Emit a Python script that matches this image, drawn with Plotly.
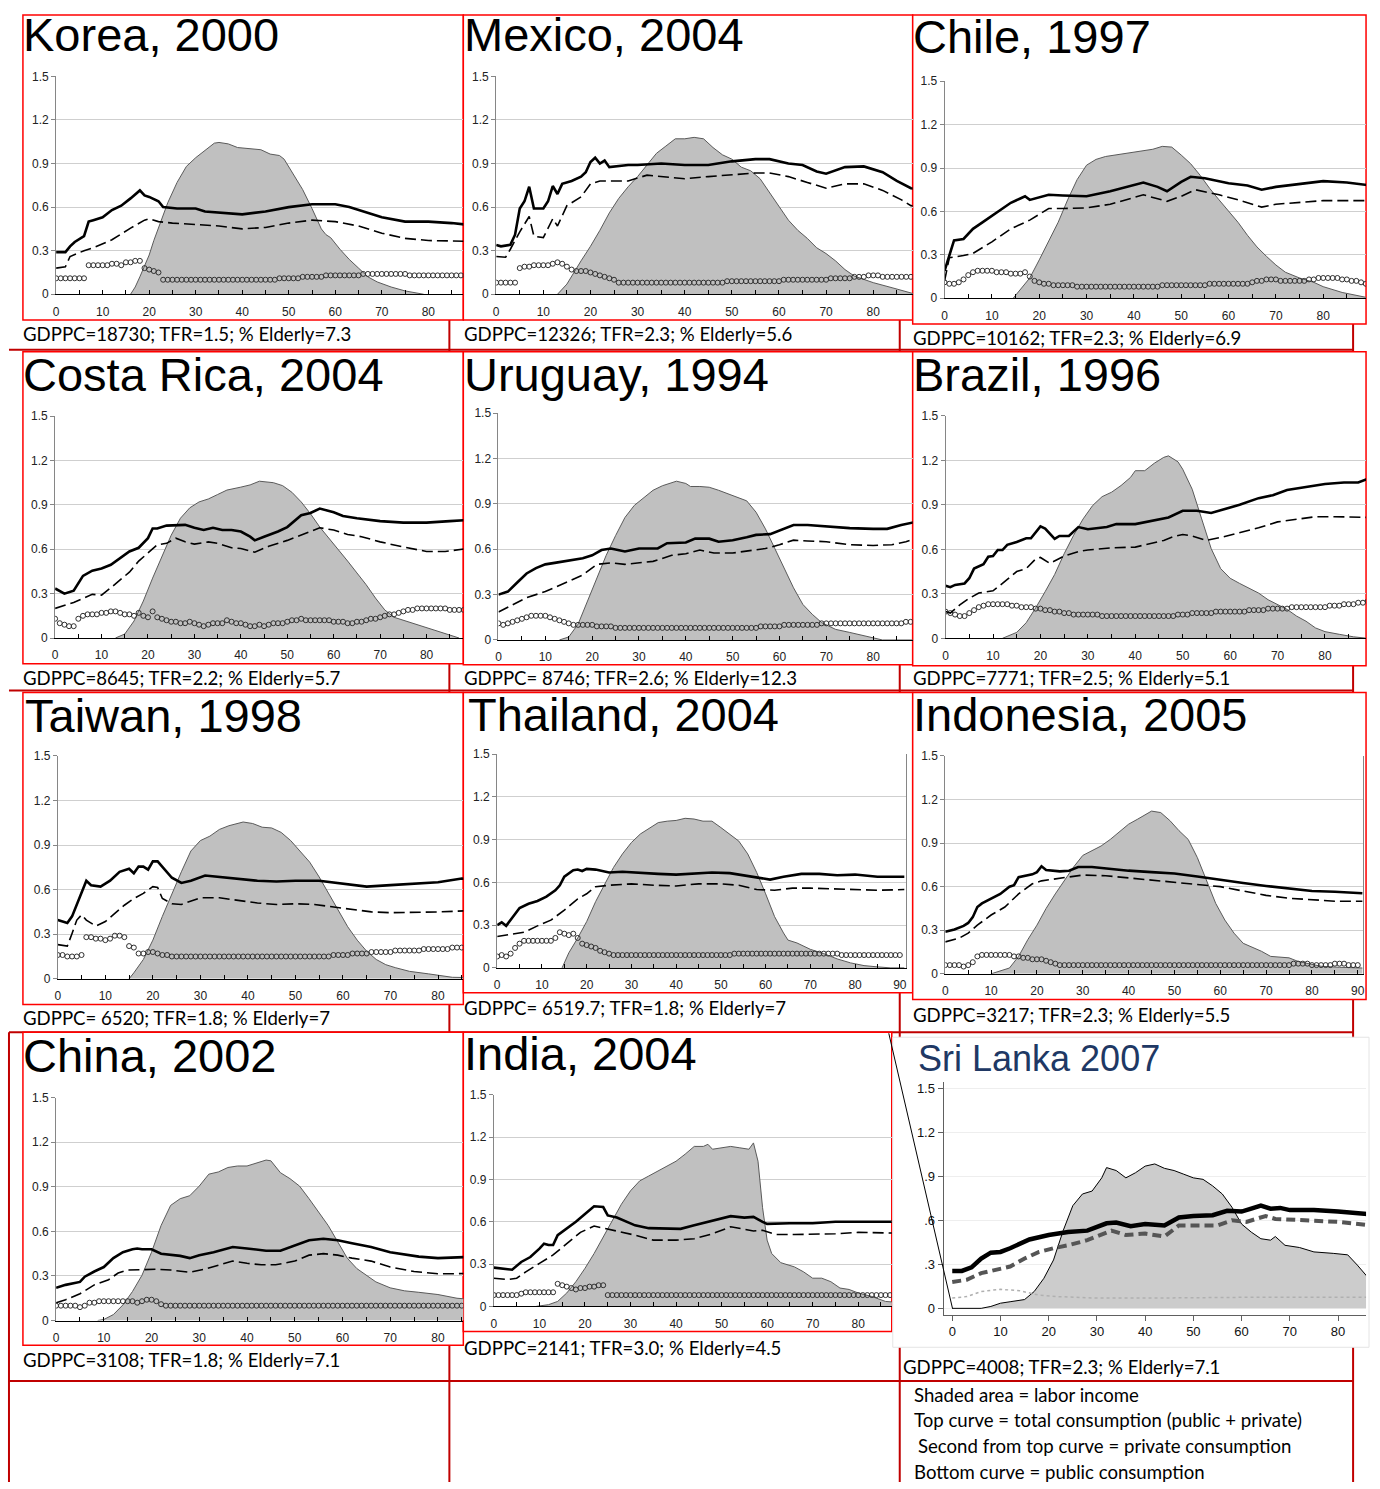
import plotly.graph_objects as go

W, H = 1380, 1489
def fx(p): return p / W
def fy(p): return 1 - p / H

# ---------------- data (age, value) ----------------
PUB_AGES = list(range(91))

KOREA_LABOR = [(16,0),(17,.05),(18,.12),(19,.19),(20,.27),(21,.37),(22,.46),(24,.63),(26,.77),(28,.88),(30,.94),(32,.99),(34,1.04),(35,1.045),(37,1.035),(39,1.01),(41,1.005),(44,.995),(46,.965),(48,.955),(49,.93),(51,.82),(53,.72),(55,.59),(57,.45),(58,.41),(59,.39),(61,.31),(63,.24),(65,.18),(67,.12),(69,.085),(72,.05),(75,.023),(79,0)]
KOREA_TOTAL = [(0,.29),(2,.29),(3,.33),(4,.36),(6,.40),(7,.50),(8,.51),(10,.53),(12,.58),(14,.61),(16,.66),(18,.715),(19,.68),(20,.67),(22,.64),(23,.60),(26,.59),(30,.59),(32,.57),(36,.56),(40,.55),(45,.57),(50,.60),(55,.62),(60,.62),(63,.60),(66,.57),(70,.53),(75,.50),(80,.50),(85,.49),(88,.48)]
KOREA_PRIVATE = [(0,.18),(2,.19),(3,.26),(6,.30),(8,.32),(12,.375),(16,.455),(19,.51),(20,.52),(22,.50),(25,.49),(30,.48),(35,.47),(40,.45),(45,.46),(50,.49),(55,.51),(60,.50),(65,.47),(70,.42),(75,.385),(80,.37),(88,.365)]
KOREA_PUBLIC = [0.11,0.11,0.11,0.11,0.11,0.11,0.11,
    0.20,0.20,0.20,0.20,0.20,0.21,0.21,0.20,
    0.22,0.22,0.23,0.23, 0.18,0.17,0.16,0.15,
    0.10,0.10,0.10,0.10,0.10,0.10,0.10,0.10,0.10,0.10,0.10,0.10,0.10,0.10,0.10,0.10,0.10,0.10,0.10,0.10,0.10,0.10,0.10,
    0.10,0.10,0.11,0.11,0.11,0.11,0.11,0.12,0.12,0.12,
    0.12,0.12,0.13,0.13,0.13,0.13,0.13,0.13,0.13,0.13,
    0.14,0.14,0.14,0.14,0.14,0.14,0.14,0.14,0.14,0.14,
    0.13,0.13,0.13,0.13,0.13,0.13,0.13,0.13,0.13,0.13,0.13,0.13,0.13,0.13,0.13]

MEXICO_LABOR = [(13,0),(15,.07),(18,.23),(20,.33),(22,.44),(24,.56),(26,.66),(28,.74),(30,.81),(32,.89),(34,.97),(36,1.02),(38,1.07),(40,1.07),(42,1.08),(44,1.07),(46,1.01),(48,.96),(50,.93),(52,.875),(54,.85),(56,.795),(58,.70),(60,.61),(62,.51),(64,.44),(66,.385),(68,.32),(70,.28),(72,.23),(74,.17),(76,.125),(78,.10),(80,.08),(84,.045),(88,.01),(89,0)]
MEXICO_TOTAL = [(0,.34),(1,.33),(3,.34),(4,.41),(5,.59),(6,.64),(7,.74),(8,.59),(10,.59),(11,.64),(12,.745),(13,.69),(14,.76),(16,.78),(18,.81),(19,.84),(20,.91),(21,.94),(22,.90),(23,.92),(24,.875),(28,.89),(30,.89),(35,.90),(40,.89),(45,.89),(50,.915),(55,.93),(58,.93),(62,.90),(65,.89),(68,.845),(70,.83),(74,.875),(78,.88),(82,.84),(85,.78),(88,.73),(90,.72)]
MEXICO_PRIVATE = [(0,.26),(2,.255),(3,.31),(5,.43),(7,.535),(8,.40),(10,.39),(12,.52),(13,.47),(15,.61),(18,.67),(20,.76),(22,.78),(25,.78),(28,.78),(32,.82),(40,.795),(45,.81),(50,.82),(55,.835),(58,.835),(62,.81),(66,.77),(70,.73),(74,.76),(78,.76),(82,.715),(86,.65),(88,.61),(90,.60)]
MEXICO_PUBLIC = [0.08,0.08,0.08,0.08,0.08,
    0.18,0.19,0.19,0.20,0.20,0.20,0.20,
    0.21,0.22,0.21,
    0.19,0.17,0.16,0.16,0.16,0.15,0.14,0.13,0.12,0.11,0.10,
    0.08,0.08,0.08,0.08,0.08,0.08,0.08,0.08,0.08,0.08,0.08,0.08,0.08,0.08,0.08,0.08,0.08,0.08,0.08,0.08,0.08,0.08,0.08,
    0.09,0.09,0.09,0.09,0.09,0.09,0.09,0.09,0.09,0.09,0.09,0.09,
    0.10,0.10,0.10,0.10,0.10,0.10,0.10,0.10,0.10,0.10,
    0.11,0.11,0.11,0.11,0.11,0.12,0.12,0.12,
    0.13,0.13,0.13,0.12,0.12,0.12,0.12,0.12,0.12,0.12,0.12,0.12]

CHILE_LABOR = [(14.5,0),(16,.06),(18,.14),(20,.265),(22,.39),(24,.525),(26,.68),(28,.82),(30,.92),(32,.96),(34,.98),(36,.99),(40,1.01),(44,1.03),(46,1.05),(48,1.045),(50,.99),(52,.93),(54,.85),(56,.76),(58,.68),(60,.60),(62,.525),(64,.435),(66,.355),(68,.29),(70,.23),(72,.18),(75,.14),(78,.11),(80,.08),(84,.04),(88,.01),(90,0)]
CHILE_TOTAL = [(0,.19),(1,.29),(2,.40),(4,.41),(6,.48),(8,.525),(10,.57),(12,.615),(14,.66),(16,.69),(17,.705),(18,.68),(20,.70),(22,.715),(25,.71),(30,.705),(35,.74),(40,.785),(42,.80),(45,.77),(47,.74),(50,.805),(52,.84),(55,.83),(60,.795),(64,.78),(67,.75),(70,.77),(75,.79),(80,.81),(85,.80),(90,.78)]
CHILE_PRIVATE = [(0,.12),(1,.28),(4,.295),(6,.31),(10,.39),(14,.48),(18,.54),(20,.58),(22,.62),(25,.62),(30,.625),(35,.65),(40,.70),(42,.715),(47,.67),(50,.705),(53,.75),(58,.715),(62,.68),(67,.63),(70,.65),(75,.66),(80,.675),(90,.675)]
CHILE_PUBLIC = [0.11,0.10,0.10,0.11, 0.13,0.16,
    0.18,0.19,0.19,0.19,0.19,
    0.18,0.18,0.18,0.17,0.17,0.17,0.18,
    0.15,0.12,0.11,0.10,0.10,
    0.09,0.09,0.09,0.09,0.09,
    0.08,0.08,0.08,0.08,0.08,0.08,0.08,0.08,0.08,0.08,0.08,0.08,0.08,0.08,0.08,0.08,0.08,0.08,
    0.09,0.09,0.09,0.09,0.09,0.09,0.09,0.09,0.09,0.09,
    0.10,0.10,0.10,0.10,0.10,0.10,0.10,0.10,0.10,
    0.11,0.12,0.12,0.13,0.13,0.13,
    0.12,0.12,0.12,0.12,0.12,0.12,
    0.13,0.13,0.14,0.14,0.14,0.14,0.14,0.13,0.13,
    0.12,0.12,0.11,0.10,0.10]

COSTA_LABOR = [(13,0),(15,.027),(17,.115),(19,.25),(21,.405),(23,.55),(25,.695),(27,.81),(29,.88),(31,.92),(33,.94),(35,.97),(37,1.0),(40,1.02),(42,1.035),(44,1.06),(47,1.05),(49,1.03),(51,.985),(53,.92),(55,.84),(57,.75),(59,.675),(61,.595),(63,.52),(65,.44),(67,.36),(69,.27),(71,.19),(73,.14),(76,.11),(80,.07),(84,.03),(86,.005),(87,0)]
COSTA_TOTAL = [(0,.335),(2,.30),(4,.32),(6,.42),(8,.455),(10,.47),(12,.495),(14,.54),(16,.585),(18,.61),(20,.675),(21,.74),(22,.74),(24,.76),(26,.765),(28,.765),(30,.745),(32,.73),(34,.745),(36,.73),(38,.73),(40,.72),(42,.685),(43,.66),(45,.685),(48,.72),(50,.75),(53,.83),(55,.845),(57,.875),(60,.85),(62,.825),(65,.81),(70,.79),(75,.78),(80,.78),(85,.79),(90,.80)]
COSTA_PRIVATE = [(0,.20),(4,.24),(8,.295),(10,.29),(12,.34),(14,.395),(16,.445),(18,.52),(20,.575),(22,.63),(24,.64),(26,.675),(28,.65),(30,.635),(33,.65),(35,.64),(38,.61),(40,.605),(43,.58),(46,.62),(50,.66),(53,.695),(57,.745),(60,.73),(63,.70),(66,.685),(70,.65),(75,.615),(80,.585),(84,.585),(90,.61)]
COSTA_PUBLIC = [0.13,0.10,0.09,0.08,0.08,
    0.13,0.15,0.16,0.16,0.16,0.17,0.17,0.18,0.18,
    0.17,0.16,0.16,0.15,0.17,0.15,0.14,0.18,0.14,0.13,0.12,
    0.11,0.11,0.10,0.10,0.11,0.10,
    0.09,0.08,0.09, 0.10,0.10,0.10, 0.12,0.11, 0.10,0.10,0.09,
    0.08,0.08,0.09,0.08,0.09, 0.10,0.10,0.10,0.11,
    0.12,0.12,0.13,0.12,0.12,
    0.12,0.12,0.12,0.12,0.11,0.11,0.11,
    0.10,0.10,0.11,0.11, 0.12,0.13,0.13,0.14,
    0.15,0.16,0.16,0.17,0.18, 0.19,0.19,0.20,0.20,
    0.20,0.20,0.20,0.20,0.20,0.19,0.19,0.19,0.19,0.19,0.19]

URUGUAY_LABOR = [(13,0),(15,.02),(17,.105),(19,.26),(21,.41),(23,.56),(25,.69),(27,.81),(29,.89),(31,.94),(33,.99),(35,1.02),(37,1.04),(38,1.05),(40,1.035),(41,1.015),(43,1.015),(45,1.01),(47,.99),(49,.965),(51,.94),(53,.92),(55,.845),(57,.735),(59,.605),(61,.475),(63,.345),(65,.235),(67,.17),(69,.115),(72,.07),(75,.05),(78,.03),(80,.013),(82,0),(90,0)]
URUGUAY_TOTAL = [(0,.30),(2,.32),(4,.38),(6,.44),(8,.475),(10,.50),(12,.51),(14,.52),(16,.53),(18,.54),(20,.56),(22,.595),(24,.605),(27,.585),(30,.605),(34,.605),(36,.64),(40,.645),(42,.67),(45,.67),(47,.65),(50,.66),(53,.68),(55,.695),(58,.70),(60,.725),(63,.76),(66,.76),(70,.75),(75,.74),(80,.735),(83,.735),(86,.76),(89,.78)]
URUGUAY_PRIVATE = [(0,.185),(3,.235),(6,.28),(10,.32),(14,.375),(18,.43),(21,.50),(24,.51),(27,.50),(30,.51),(33,.52),(37,.56),(40,.57),(43,.595),(46,.575),(50,.575),(54,.59),(57,.605),(60,.63),(63,.66),(66,.655),(70,.65),(75,.63),(80,.625),(84,.63),(87,.65),(89,.67)]
URUGUAY_PUBLIC = [0.11,0.10,0.11, 0.12,0.13,0.14,
    0.15,0.16,0.16,0.16,0.16, 0.15,0.14,0.13,0.12,
    0.11,0.10,0.10,0.10,0.10,0.10, 0.09,0.09,0.09,0.09,
    0.08,0.08,0.08,0.08,0.08,0.08,0.08,0.08,0.08,0.08,0.08,0.08,0.08,0.08,0.08,0.08,
    0.08,0.08,0.08,0.08,0.08,0.08,0.08,0.08,0.08,0.08,0.08,0.08,0.08,0.08,0.08,
    0.09,0.09,0.09,0.09,0.09,0.10,0.10,0.10,0.10,0.10,0.10,0.10,0.10,
    0.11,0.11,0.11,0.11,0.11,0.11,0.11,0.11,0.11,0.11,
    0.11,0.11,0.11,0.11,0.11,0.11,0.11,0.11,0.12,0.12,0.12,0.12]

BRAZIL_LABOR = [(12,0),(15,.04),(17,.105),(19,.205),(21,.315),(23,.43),(25,.57),(27,.695),(29,.805),(31,.895),(33,.955),(35,.985),(37,1.03),(39,1.085),(40,1.13),(42,1.13),(44,1.18),(46,1.22),(47,1.23),(49,1.19),(50,1.14),(52,1.005),(54,.805),(56,.605),(58,.47),(60,.405),(62,.37),(64,.34),(66,.305),(68,.26),(70,.225),(72,.195),(74,.15),(76,.115),(78,.07),(80,.045),(83,.027),(86,.01),(89,0)]
BRAZIL_TOTAL = [(0,.355),(1,.345),(2,.36),(4,.37),(5,.405),(6,.47),(8,.50),(9,.55),(10,.555),(11,.595),(12,.595),(13,.63),(15,.65),(17,.675),(18,.675),(20,.755),(21,.74),(23,.67),(24,.69),(26,.69),(28,.75),(30,.735),(34,.75),(36,.77),(40,.77),(44,.795),(47,.815),(50,.86),(53,.86),(56,.845),(59,.87),(62,.90),(66,.945),(69,.965),(72,1.0),(76,1.02),(80,1.04),(84,1.05),(87,1.05),(89,1.075)]
BRAZIL_PRIVATE = [(0,.18),(1,.17),(3,.225),(5,.27),(7,.305),(10,.32),(12,.37),(15,.45),(17,.47),(19,.535),(20,.545),(22,.505),(25,.555),(28,.585),(30,.595),(35,.61),(40,.615),(43,.64),(46,.66),(48,.685),(50,.70),(52,.69),(55,.66),(58,.68),(62,.71),(66,.745),(70,.785),(74,.805),(78,.82),(82,.82),(86,.815),(89,.815)]
BRAZIL_PUBLIC = [0.18,0.17,0.16,0.15,0.15,0.17,0.19,0.21,
    0.22,0.23,0.23,0.23,0.23, 0.23,0.22,0.22,0.21,0.21,
    0.21,0.20,0.20,0.19,0.19, 0.18,0.18,0.17,0.17,0.16,
    0.16,0.16,0.16,0.16,0.16,
    0.15,0.15,0.15,0.15,0.15,0.15,0.15,0.15,0.15,0.15,0.15,0.15,0.15,0.15,0.15,0.15,
    0.16,0.16,0.16,0.17,0.17,0.17,0.17,0.17,0.18,0.18,0.18,0.18,
    0.18,0.18,0.18,0.19,0.19,0.19,0.19,0.20,0.20,0.20,
    0.20,0.20,0.21,0.21,0.21,0.21,0.21,0.21,0.21,0.21,
    0.22,0.22,0.22,0.23,0.23,0.23,0.24,0.24,0.25,0.26]

TAIWAN_LABOR = [(15,0),(16,.04),(18,.13),(20,.26),(22,.42),(24,.575),(26,.72),(28,.86),(30,.93),(32,.96),(34,1.005),(36,1.03),(38,1.045),(39,1.055),(41,1.045),(43,1.02),(45,1.015),(47,.985),(49,.93),(51,.86),(53,.785),(55,.685),(57,.575),(59,.46),(61,.35),(63,.26),(65,.185),(67,.13),(69,.095),(71,.075),(74,.05),(78,.033),(80,.025),(83,.01),(88,.007)]
TAIWAN_TOTAL = [(0,.395),(2,.375),(3,.42),(5,.575),(6,.66),(7,.63),(9,.62),(11,.66),(13,.72),(15,.74),(16,.71),(17,.755),(18,.755),(19,.735),(20,.79),(21,.79),(22,.755),(24,.68),(26,.645),(28,.66),(31,.695),(34,.685),(38,.675),(42,.66),(46,.655),(50,.66),(55,.66),(60,.64),(65,.62),(70,.63),(75,.64),(80,.65),(85,.675),(88,.665)]
TAIWAN_PRIVATE = [(0,.23),(2,.22),(3,.305),(4,.395),(5,.43),(6,.395),(8,.355),(10,.385),(12,.44),(14,.495),(16,.54),(18,.575),(20,.62),(21,.615),(22,.54),(24,.505),(26,.50),(28,.52),(30,.545),(34,.545),(37,.53),(42,.51),(46,.50),(50,.505),(54,.50),(58,.485),(62,.465),(66,.45),(70,.445),(75,.445),(80,.45),(88,.46)]
TAIWAN_PUBLIC = [0.16,0.16,0.15,0.15,0.15,0.16,
    0.28,0.28,0.27,0.27,0.26, 0.27,0.29,0.29, 0.28,
    0.22,0.21,0.17,0.17,0.18,0.18,
    0.17,0.16,0.16,0.15,0.15,
    0.15,0.15,0.15,0.15,0.15,0.15,0.15,0.15,0.15,0.15,0.15,0.15,0.15,0.15,0.15,0.15,0.15,0.15,0.15,0.15,0.15,0.15,0.15,0.15,0.15,
    0.15,0.15,0.15,0.15,0.15,
    0.15,0.15,0.16,0.16,0.16,0.16,0.17,0.17,0.17,
    0.17,0.18,0.18,0.18,0.18,0.18,0.19,0.19,0.19,0.19,0.19,
    0.19,0.20,0.20,0.20,0.20,0.20,0.20,0.21,0.21,0.21,0.21,0.21,0.21,0.21,0.21]

THAI_LABOR = [(14.5,0),(16,.105),(18,.21),(20,.325),(22,.465),(24,.59),(26,.705),(28,.80),(30,.88),(32,.94),(34,.98),(36,1.02),(38,1.03),(40,1.035),(42,1.05),(44,1.045),(46,1.03),(48,1.03),(50,.985),(52,.94),(54,.89),(56,.80),(58,.67),(60,.52),(62,.36),(64,.245),(65,.195),(67,.175),(70,.13),(73,.10),(76,.063),(79,.035),(82,.016),(85,.007),(88,0),(91,0)]
THAI_TOTAL = [(0,.30),(1,.32),(2,.295),(3,.335),(5,.42),(7,.45),(9,.47),(11,.50),(13,.545),(14,.58),(15,.64),(17,.685),(18,.69),(19,.68),(20,.695),(22,.69),(25,.67),(28,.675),(32,.665),(36,.66),(40,.655),(44,.665),(48,.67),(52,.665),(55,.65),(58,.635),(61,.62),(64,.64),(68,.66),(72,.66),(76,.65),(80,.655),(85,.64),(91,.64)]
THAI_PRIVATE = [(0,.22),(2,.23),(4,.245),(6,.25),(9,.295),(12,.335),(15,.405),(18,.485),(20,.52),(22,.57),(25,.58),(30,.59),(35,.58),(40,.575),(45,.59),(50,.59),(54,.58),(58,.55),(62,.545),(66,.56),(70,.56),(75,.555),(80,.55),(85,.545),(91,.55)]
THAI_PUBLIC = [0.08,0.09,0.08,0.10,0.14,
    0.17,0.19,0.19,0.19,0.19,0.19,0.19,0.19,
    0.21,0.25,0.24,0.23,0.24,
    0.21,0.17,0.16,0.15,0.14,0.12,0.11,0.10,
    0.09,0.09,0.09,0.09,0.09,0.09,0.09,0.09,0.09,0.09,0.09,0.09,0.09,0.09,0.09,0.09,0.09,0.09,0.09,0.09,0.09,0.09,0.09,0.09,0.09,
    0.09,0.09,
    0.10,0.10,0.10,0.10,0.10,0.10,0.10,0.10,0.10,0.10,0.10,0.10,0.10,
    0.10,0.10,0.10,0.10,0.10,0.10,0.10,0.10,0.10,0.10,0.10,
    0.09,0.09,0.09,0.09,0.09,0.09,0.09,0.09,0.09,0.09,0.09,0.09,0.09,0.09]

INDO_LABOR = [(10,0),(12,.018),(14,.04),(16,.12),(18,.235),(20,.335),(22,.45),(24,.55),(26,.645),(28,.735),(30,.815),(32,.85),(34,.88),(36,.925),(38,.98),(40,1.03),(42,1.065),(44,1.105),(45,1.12),(47,1.11),(49,1.055),(51,.985),(53,.925),(55,.80),(57,.645),(59,.485),(61,.37),(63,.28),(65,.21),(67,.185),(69,.155),(71,.12),(73,.115),(75,.11),(77,.085),(79,.07),(82,.052),(86,.045),(91,.04)]
INDO_TOTAL = [(0,.29),(2,.305),(4,.33),(5,.35),(6,.39),(7,.46),(8,.485),(10,.515),(12,.55),(14,.60),(15,.61),(16,.665),(18,.68),(19,.685),(20,.70),(21,.74),(22,.715),(25,.705),(27,.71),(29,.735),(32,.735),(36,.72),(40,.71),(45,.70),(50,.69),(55,.67),(60,.645),(65,.625),(70,.605),(75,.585),(80,.57),(85,.565),(91,.555)]
INDO_PRIVATE = [(0,.22),(3,.245),(5,.28),(7,.335),(10,.405),(13,.46),(16,.55),(19,.62),(21,.64),(24,.655),(27,.67),(30,.68),(35,.675),(40,.66),(45,.645),(50,.635),(55,.62),(60,.60),(65,.57),(70,.54),(75,.52),(80,.51),(85,.50),(91,.50)]
INDO_PUBLIC = [0.06,0.06,0.06,0.06,0.05,0.06, 0.08,0.12,
    0.13,0.13,0.13,0.13,0.13,0.13, 0.13,0.12,0.12,
    0.11,0.11,0.10,0.10,0.10, 0.09,0.08,0.07,0.06,
    0.06,0.06,0.06,0.06,0.06,0.06,0.06,0.06,0.06,0.06,0.06,0.06,0.06,0.06,0.06,0.06,0.06,0.06,0.06,0.06,0.06,0.06,0.06,0.06,0.06,
    0.06,0.06,0.06,0.06,0.06,0.06,0.06,0.06,0.06,0.06,0.06,0.06,0.06,0.06,0.06,0.06,0.06,0.06,0.06,0.06,0.06,0.06,0.06,0.06,
    0.06,0.07,0.07,0.07,0.07,0.06,0.06,0.06,0.06,0.06,0.07,0.07,0.07,0.06,0.06,0.06]

CHINA_LABOR = [(8.7,0),(10,.007),(12,.04),(14,.105),(16,.195),(18,.305),(20,.46),(22,.64),(24,.775),(26,.82),(28,.84),(30,.905),(32,.985),(34,1.0),(36,1.03),(38,1.04),(40,1.04),(42,1.06),(44,1.08),(45,1.075),(47,.995),(49,.955),(51,.905),(53,.82),(55,.73),(57,.64),(59,.53),(61,.42),(63,.35),(65,.305),(67,.26),(70,.22),(73,.20),(76,.19),(80,.175),(84,.15),(88,.14)]
CHINA_TOTAL = [(0,.22),(2,.24),(5,.26),(6,.295),(8,.33),(10,.36),(12,.42),(14,.46),(16,.48),(17,.485),(18,.48),(20,.48),(22,.45),(24,.445),(26,.435),(28,.42),(30,.44),(33,.46),(37,.495),(40,.485),(44,.47),(47,.47),(50,.505),(53,.54),(56,.55),(59,.54),(62,.52),(66,.495),(70,.46),(73,.445),(76,.43),(80,.42),(84,.425),(88,.43)]
CHINA_PRIVATE = [(0,.12),(2,.14),(5,.18),(8,.24),(11,.275),(13,.32),(15,.34),(18,.345),(21,.345),(24,.34),(28,.325),(31,.345),(34,.375),(37,.40),(40,.385),(43,.375),(46,.375),(50,.40),(53,.44),(56,.45),(59,.44),(62,.42),(66,.40),(70,.36),(75,.33),(80,.315),(84,.315),(88,.32)]
CHINA_PUBLIC = [0.10,0.10,0.10,0.10,0.10,0.09,0.10,
    0.12,0.12,0.13,0.13,0.13,0.13,0.13,0.13,0.13,
    0.13,0.12,0.13, 0.14,0.14,0.13, 0.11,0.10,0.10,
    0.10,0.10,0.10,0.10,0.10,0.10,0.10,0.10,0.10,0.10,0.10,0.10,0.10,0.10,0.10,0.10,0.10,0.10,0.10,0.10,0.10,0.10,
    0.10,0.10,0.10,0.10,0.10,0.10,0.10,0.10,0.10,0.10,0.10,0.10,0.10,0.10,0.10,0.10,0.10,0.10,0.10,0.10,0.10,0.10,
    0.10,0.10,0.10,0.10,0.10,0.10,0.10,0.10,0.10,0.10,0.10,0.10,0.10,0.10,0.10,0.10,0.10,0.10,0.10,0.10,0.10,0.10]

INDIA_LABOR = [(9.3,0),(12,.012),(14,.035),(16,.095),(18,.175),(20,.27),(22,.375),(24,.49),(26,.61),(28,.725),(30,.82),(32,.89),(34,.925),(36,.96),(38,.995),(40,1.03),(42,1.08),(44,1.135),(46,1.135),(47,1.15),(48,1.115),(50,1.125),(52,1.135),(54,1.125),(56,1.115),(57,1.16),(58,1.03),(59,.70),(60,.47),(61,.375),(63,.31),(66,.28),(68,.245),(70,.20),(72,.20),(74,.175),(76,.13),(78,.12),(80,.095),(83,.07),(86,.035),(88,.03)]
INDIA_TOTAL = [(0,.275),(2,.27),(4,.26),(6,.315),(8,.35),(10,.41),(11,.445),(12,.435),(13,.435),(14,.505),(16,.55),(18,.60),(20,.655),(22,.71),(24,.705),(25,.645),(27,.63),(29,.60),(31,.575),(34,.555),(38,.55),(41,.55),(44,.575),(47,.60),(50,.625),(52,.64),(55,.63),(57,.635),(59,.60),(60,.585),(65,.59),(70,.59),(75,.60),(80,.60),(88,.60)]
INDIA_PRIVATE = [(0,.20),(3,.19),(5,.20),(7,.245),(10,.305),(13,.365),(16,.445),(19,.525),(22,.57),(25,.55),(28,.525),(31,.505),(35,.47),(40,.47),(44,.48),(48,.515),(52,.565),(55,.55),(57,.535),(59,.54),(62,.51),(66,.51),(70,.51),(75,.515),(80,.525),(84,.525),(88,.52)]
INDIA_PUBLIC = [0.08,0.08,0.08,0.08,0.08,0.08, 0.09,
    0.10,0.10,0.10,0.10,0.10,0.10,0.10,
    0.16,0.15,0.14,0.13,0.12,
    0.13,0.13,0.14,0.14,0.15,0.15,
    0.08,0.08,0.08,0.08,0.08,0.08,0.08,0.08,0.08,0.08,0.08,0.08,0.08,0.08,0.08,0.08,0.08,0.08,0.08,0.08,0.08,0.08,
    0.08,0.08,0.08,0.08,0.08,0.08,0.08,0.08,0.08,0.08,0.08,0.08,0.08,0.08,0.08,0.08,0.08,0.08,0.08,0.08,0.08,0.08,
    0.08,0.08,0.08,0.08,0.08,0.08,0.08,0.08,0.08,0.08,0.08,0.08,0.08,0.08,0.08,0.08,0.08,0.08,0.08,0.08,0.08,0.08]

SRI_LABOR = [(0,0),(6,0),(8,.013),(10,.035),(12,.045),(15,.06),(17,.115),(19,.205),(21,.33),(23,.53),(25,.70),(27,.78),(29,.80),(31,.89),(32,.96),(34,.94),(36,.89),(38,.925),(40,.97),(42,.985),(44,.955),(46,.94),(48,.915),(50,.89),(52,.88),(54,.835),(56,.78),(58,.69),(60,.575),(62,.52),(64,.475),(66,.465),(67,.49),(69,.43),(72,.415),(75,.385),(79,.375),(82,.365),(84,.295),(86,.215),(87,.18)]
SRI_TOTAL = [(0,.255),(2,.255),(4,.28),(6,.34),(8,.38),(10,.385),(12,.41),(14,.44),(16,.47),(18,.485),(20,.50),(24,.52),(28,.53),(32,.58),(34,.585),(37,.56),(40,.575),(44,.565),(47,.62),(50,.63),(54,.635),(57,.665),(60,.66),(62,.68),(64,.70),(66,.68),(68,.685),(70,.67),(75,.67),(80,.66),(87,.64)]
SRI_PRIVATE = [(0,.18),(3,.195),(6,.24),(9,.265),(12,.285),(15,.34),(18,.385),(21,.41),(24,.43),(28,.465),(31,.50),(33,.53),(36,.50),(40,.51),(44,.49),(47,.565),(52,.565),(55,.565),(58,.60),(61,.59),(63,.61),(65,.63),(67,.61),(70,.605),(75,.60),(80,.59),(87,.565)]
SRI_PUBLIC = [(0,.07),(3,.08),(6,.115),(10,.13),(14,.12),(18,.09),(22,.08),(30,.07),(40,.07),(50,.075),(60,.075),(70,.075),(87,.075)]

TITLES = ["Korea, 2000", "Mexico, 2004", "Chile, 1997", "Costa Rica, 2004", "Uruguay, 1994",
          "Brazil, 1996", "Taiwan, 1998", "Thailand, 2004", "Indonesia, 2005", "China, 2002",
          "India, 2004", "Sri Lanka 2007"]
NOTES = ["GDPPC=18730; TFR=1.5; % Elderly=7.3", "GDPPC=12326; TFR=2.3; % Elderly=5.6",
         "GDPPC=10162; TFR=2.3; % Elderly=6.9", "GDPPC=8645; TFR=2.2; % Elderly=5.7",
         "GDPPC= 8746; TFR=2.6; % Elderly=12.3", "GDPPC=7771; TFR=2.5; % Elderly=5.1",
         "GDPPC= 6520; TFR=1.8; % Elderly=7", "GDPPC= 6519.7; TFR=1.8; % Elderly=7",
         "GDPPC=3217; TFR=2.3; % Elderly=5.5", "GDPPC=3108; TFR=1.8; % Elderly=7.1",
         "GDPPC=2141; TFR=3.0; % Elderly=4.5", "GDPPC=4008; TFR=2.3; % Elderly=7.1"]
LEGEND_LINES = ["Shaded area = labor income", "Top curve = total consumption (public + private)",
                "Second from top curve = private consumption", "Bottom curve = public consumption"]
X_TICKS = list(range(0, 95, 5))
Y_TICKS = [0, 0.3, 0.6, 0.9, 1.2, 1.5]

SERIES = [
    (KOREA_LABOR, KOREA_TOTAL, KOREA_PRIVATE, KOREA_PUBLIC),
    (MEXICO_LABOR, MEXICO_TOTAL, MEXICO_PRIVATE, MEXICO_PUBLIC),
    (CHILE_LABOR, CHILE_TOTAL, CHILE_PRIVATE, CHILE_PUBLIC),
    (COSTA_LABOR, COSTA_TOTAL, COSTA_PRIVATE, COSTA_PUBLIC),
    (URUGUAY_LABOR, URUGUAY_TOTAL, URUGUAY_PRIVATE, URUGUAY_PUBLIC),
    (BRAZIL_LABOR, BRAZIL_TOTAL, BRAZIL_PRIVATE, BRAZIL_PUBLIC),
    (TAIWAN_LABOR, TAIWAN_TOTAL, TAIWAN_PRIVATE, TAIWAN_PUBLIC),
    (THAI_LABOR, THAI_TOTAL, THAI_PRIVATE, THAI_PUBLIC),
    (INDO_LABOR, INDO_TOTAL, INDO_PRIVATE, INDO_PUBLIC),
    (CHINA_LABOR, CHINA_TOTAL, CHINA_PRIVATE, CHINA_PUBLIC),
    (INDIA_LABOR, INDIA_TOTAL, INDIA_PRIVATE, INDIA_PUBLIC),
    (SRI_LABOR, SRI_TOTAL, SRI_PRIVATE, SRI_PUBLIC),
]

# ---------------- layout geometry (reference pixels) ----------------
GEOM = [
    (53.3, 462, 70, 290, 4.67), (495, 913, 70, 290, 4.73), (945, 1368, 75, 294, 4.75),
    (52.3, 462, 413, 637, 4.66), (497.3, 913, 410, 639, 4.70), (946, 1368, 412.7, 637.3, 4.76),
    (55, 462, 756, 981, 4.77), (496, 906.7, 754.3, 970, 4.49), (945.7, 1365, 756, 976, 4.60),
    (53.3, 462, 1101, 1326, 4.79), (492.7, 892, 1098.3, 1311.7, 4.57),
]
FRAMED = (7, 8)  # panels whose plot-area right border is visible
TITLE_POS = [(19, 28), (462, 28), (912, 30), (19, 371), (462, 371), (912, 371),
             (21, 715), (466, 714), (912, 714), (19, 1058), (462, 1056), (917, 1061)]
NOTE_POS = [(19, 330), (462, 330), (912, 334), (19, 677), (462, 677), (912, 677),
            (19, 1021), (462, 1010), (912, 1018), (19, 1366), (462, 1354), (902, 1373)]
LEG_POS = [(913, 1401), (913, 1426), (917, 1453), (913, 1479)]
IMG_RECTS = [(20, 8, 462, 316), (462, 8, 913, 316), (913, 8, 1368, 320),
             (20, 348, 462, 663), (462, 348, 913, 664), (913, 348, 1368, 665),
             (20, 692, 462, 1007), (462, 692, 913, 995), (913, 692, 1368, 1002),
             (20, 1035, 462, 1351), (462, 1035, 892, 1337)]

SANS = "Liberation Sans, Arial, sans-serif"
NOTE_FONT = "Lato, Carlito, Calibri, sans-serif"

fig = go.Figure()
layout_axes = {}
annotations = []
shapes = []

def axname(i):
    return ("x" if i == 1 else f"x{i}"), ("y" if i == 1 else f"y{i}")

for k, (labor, total, private, public) in enumerate(SERIES):
    i = k + 1
    xa, ya = axname(i)
    sri = (k == 11)
    lx, ly = zip(*labor)
    fig.add_trace(go.Scatter(x=lx, y=ly, mode="lines", fill="tozeroy",
                             fillcolor="#cccccc" if sri else "#c0c0c0",
                             line=dict(color="#000000" if sri else "#5a5a5a", width=1),
                             xaxis=xa, yaxis=ya, hoverinfo="skip"))
    if sri:
        px_, py_ = zip(*public)
        fig.add_trace(go.Scatter(x=px_, y=py_, mode="lines",
                                 line=dict(color="#b0b0b0", width=1.5, dash="dot"),
                                 xaxis=xa, yaxis=ya, hoverinfo="skip"))
    else:
        fig.add_trace(go.Scatter(x=PUB_AGES, y=public, mode="markers",
                                 marker=dict(symbol="circle-open", size=5, color="#303030",
                                             line=dict(width=1, color="#303030")),
                                 xaxis=xa, yaxis=ya, hoverinfo="skip"))
    vx, vy = zip(*private)
    fig.add_trace(go.Scatter(x=vx, y=vy, mode="lines",
                             line=dict(color="#555555" if sri else "#000000",
                                       width=4 if sri else 1.6,
                                       dash="9px,5px" if sri else "11px,5px"),
                             xaxis=xa, yaxis=ya, hoverinfo="skip"))
    tx, ty = zip(*total)
    fig.add_trace(go.Scatter(x=tx, y=ty, mode="lines",
                             line=dict(color="#000000", width=4.5 if sri else 2.6),
                             xaxis=xa, yaxis=ya, hoverinfo="skip"))

    if not sri:
        x0, x1, yt, yb, ppy = GEOM[k]
        xmax = (x1 - x0) / ppy
        layout_axes[("xaxis" if i == 1 else f"xaxis{i}")] = dict(
            domain=[fx(x0), fx(x1)], range=[0, xmax], anchor=ya,
            showgrid=False, zeroline=False, showline=True, linecolor="#000000", linewidth=1,
            ticks="inside", ticklen=4, tickcolor="#000000", tickwidth=1,
            tickvals=X_TICKS, ticktext=[str(v) if v % 10 == 0 else "" for v in X_TICKS],
            tickfont=dict(family=SANS, size=12, color="#222222"), ticklabelstandoff=6,
            fixedrange=True)
        layout_axes[("yaxis" if i == 1 else f"yaxis{i}")] = dict(
            domain=[fy(yb), fy(yt)], range=[0, 1.5], anchor=xa,
            showgrid=True, gridcolor="#cfcfcf", gridwidth=1, zeroline=False,
            showline=True, linecolor="#868686", linewidth=1,
            mirror=True if k in FRAMED else False,
            ticks="outside", ticklen=4, tickcolor="#868686",
            tickvals=Y_TICKS, ticktext=["0", "0.3", "0.6", "0.9", "1.2", "1.5"],
            tickfont=dict(family=SANS, size=12, color="#222222"), fixedrange=True)
    else:
        x0, x1 = 944, 1368
        ppy = 4.84
        zero_px = 952.7
        y0px, y15px = 1313.7, 1091.7
        ppu = (y0px - y15px) / 1.5
        layout_axes["xaxis12"] = dict(
            domain=[fx(x0), fx(x1)], range=[-(zero_px - x0) / ppy, (x1 - zero_px) / ppy],
            anchor="y12", showgrid=False, zeroline=False, showline=True,
            linecolor="#606060", linewidth=1, ticks="outside", ticklen=5, tickcolor="#606060",
            tickvals=list(range(0, 90, 10)), tickfont=dict(family=SANS, size=13, color="#111111"),
            fixedrange=True)
        ybot, ytop = 1320, 1085
        layout_axes["yaxis12"] = dict(
            domain=[fy(ybot), fy(ytop)],
            range=[-(ybot - y0px) / ppu, 1.5 + (y15px - ytop) / ppu], anchor="x12",
            showgrid=True, gridcolor="#eeeeee", zeroline=False, showline=True,
            linecolor="#606060", linewidth=1, ticks="outside", ticklen=5, tickcolor="#606060",
            tickvals=Y_TICKS, ticktext=["0", ".3", ".6", ".9", "1.2", "1.5"],
            tickfont=dict(family=SANS, size=13, color="#111111"), fixedrange=True)

# ---------------- text ----------------
for k, t in enumerate(TITLES):
    x, y = TITLE_POS[k]
    sri = (k == 11)
    annotations.append(dict(text=t, x=fx(x), y=fy(y), xref="paper", yref="paper",
                            xanchor="left", yanchor="middle", showarrow=False, borderpad=0,
                            font=dict(family=SANS, size=36 if sri else 47,
                                      color="#203864" if sri else "#000000")))
for k, t in enumerate(NOTES):
    x, y = NOTE_POS[k]
    annotations.append(dict(text=t, x=fx(x), y=fy(y), xref="paper", yref="paper",
                            xanchor="left", yanchor="middle", showarrow=False, borderpad=0,
                            font=dict(family=NOTE_FONT, size=18.6, color="#000000")))
for t, (x, y) in zip(LEGEND_LINES, LEG_POS):
    annotations.append(dict(text=t, x=fx(x), y=fy(y), xref="paper", yref="paper",
                            xanchor="left", yanchor="middle", showarrow=False, borderpad=0,
                            font=dict(family=NOTE_FONT, size=18.6, color="#000000")))

# ---------------- frame lines ----------------
TABLE_RED = "#c00000"
def seg(xa_, ya_, xb_, yb_, color, width, layer="below"):
    shapes.append(dict(type="line", xref="paper", yref="paper",
                       x0=fx(xa_), y0=fy(ya_), x1=fx(xb_), y1=fy(yb_),
                       line=dict(color=color, width=width), layer=layer))

for yy in (346, 690, 1035, 1387):
    seg(6, yy, 1355, yy, TABLE_RED, 2)
seg(6, 1035, 6, 1489, TABLE_RED, 2)
for xx in (448, 900, 1355):
    seg(xx, 8, xx, 1489, TABLE_RED, 2)

for (a, b, c, d) in IMG_RECTS:
    shapes.append(dict(type="rect", xref="paper", yref="paper",
                       x0=fx(a), y0=fy(d), x1=fx(c), y1=fy(b),
                       fillcolor="#ffffff", line=dict(color="#ff0000", width=1.5), layer="below"))
shapes.append(dict(type="rect", xref="paper", yref="paper",
                   x0=fx(893), y0=fy(1353), x1=fx(1371), y1=fy(1040),
                   fillcolor="#ffffff", line=dict(color="#e4e4e4", width=1), layer="below"))
seg(889, 1036, 953, 1314, "#000000", 1, layer="above")

fig.update_layout(width=W, height=H, margin=dict(l=0, r=0, t=0, b=0),
                  paper_bgcolor="#ffffff", plot_bgcolor="rgba(0,0,0,0)",
                  showlegend=False, annotations=annotations, shapes=shapes,
                  **layout_axes)

fig.write_html("out.html", config={"displayModeBar": False},
               post_script="document.body.style.margin='0';")
